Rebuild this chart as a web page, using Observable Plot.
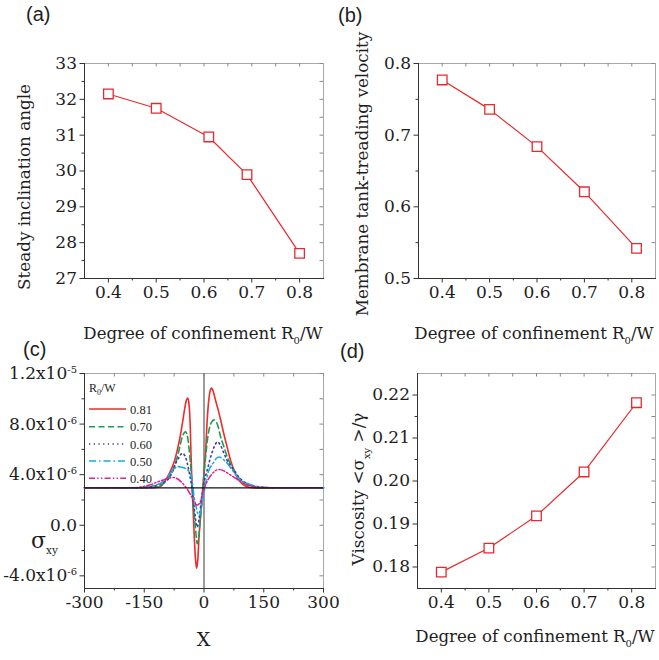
<!DOCTYPE html>
<html><head><meta charset="utf-8">
<script src="https://cdn.jsdelivr.net/npm/d3@7"></script>
<script src="https://cdn.jsdelivr.net/npm/@observablehq/plot@0.6"></script>
<style>
html,body{margin:0;padding:0;background:#fff;}
#fig{position:relative;width:659px;height:660px;overflow:hidden;background:#fff;}
.panel{position:absolute;}
#overlay{position:absolute;left:0;top:0;pointer-events:none;}
</style></head><body><div id="fig"></div>
<script>
// ---------- data ----------
const confA = [0.4, 0.5, 0.61, 0.69, 0.8];
const angleA = [32.15, 31.75, 30.95, 29.9, 27.7];
const confB = [0.4, 0.5, 0.6, 0.7, 0.81];
const velocityB = [0.777, 0.736, 0.684, 0.621, 0.542];
const confD = [0.4, 0.5, 0.6, 0.7, 0.81];
const viscosityD = [0.1788, 0.1844, 0.1919, 0.2021, 0.2182];

const confTicks = [0.4, 0.5, 0.6, 0.7, 0.8];
const confMinor = [0.45, 0.55, 0.65, 0.75];
const angleTicks = [27, 28, 29, 30, 31, 32, 33];
const angleMinor = [27.5, 28.5, 29.5, 30.5, 31.5, 32.5];
const velTicks = [0.5, 0.6, 0.7, 0.8];
const velMinor = [0.55, 0.65, 0.75];
const viscTicks = [0.18, 0.19, 0.20, 0.21, 0.22];
const viscMinor = [0.185, 0.195, 0.205, 0.215];

// panel (c): shear stress profiles, y in units of 1e-6
const stressBaseline = [2.96];
const xTicksC = [-300, -150, 0, 150, 300];
const xMinorC = [-225, -75, 75, 225];
const yTicksC = [-4, 0, 4, 8, 12];
const yMinorC = [-2, 2, 6, 10];
const yLabelsC = ["-4.0x10^-6", "0.0", "4.0x10^-6", "8.0x10^-6", "1.2x10^-5"];
const legendLabels = ["0.81", "0.70", "0.60", "0.50", "0.40"];

const sxy081 = [[-300,2.96],[-200,2.96],[-140,2.96],[-120,2.98],[-108,3.1],[-100,3.4],[-92,3.8],[-84,4.3],[-75,5.0],[-67,5.95],[-60,7.0],[-54,8.1],[-48,9.3],[-44,9.9],[-40.5,10.05],[-37.5,9.5],[-35,8.2],[-32.5,5.5],[-30,3.2],[-27,1.0],[-24,-1.2],[-21,-2.8],[-18.5,-3.4],[-16,-2.9],[-13,-1.2],[-10,0.2],[-6,1.6],[-3,2.9],[0,4.2],[4,5.8],[8,8.3],[12,9.9],[16,10.7],[19,10.85],[23,10.6],[28,10.0],[35,9.2],[42,8.3],[50,7.2],[58,6.2],[67,5.1],[76,4.3],[84,3.75],[92,3.4],[100,3.17],[110,3.02],[125,2.96],[300,2.96]];
const sxy070 = [[-300,2.96],[-160,2.96],[-130,3.0],[-109,3.17],[-95,3.5],[-84,3.97],[-75,4.6],[-67,5.4],[-60,6.3],[-54.5,7.0],[-50,7.3],[-46,7.4],[-42,7.1],[-38,6.2],[-34,4.9],[-30,3.2],[-27,1.7],[-22,0.0],[-17,-1.45],[-13,-0.8],[-9,0.6],[-5,2.2],[0,4.0],[4,5.4],[8,6.6],[12.4,7.5],[18,8.1],[25,8.33],[32,8.1],[41.7,7.0],[50,6.2],[58.5,5.4],[67,4.8],[75,4.37],[84,3.9],[92,3.57],[100,3.3],[109,3.17],[125,3.0],[150,2.96],[300,2.96]];
const sxy060 = [[-300,2.96],[-170,2.96],[-140,3.02],[-120,3.15],[-105,3.35],[-92,3.57],[-80,4.2],[-71,4.9],[-62,5.4],[-54.5,5.7],[-48,5.5],[-42,4.9],[-36,4.0],[-30,2.9],[-24,1.2],[-17,-0.15],[-12,0.6],[-7,1.9],[-2,3.0],[3,3.8],[8.3,4.37],[14,5.1],[20.8,5.8],[27,6.3],[33.4,6.6],[40,6.4],[50,5.7],[60,5.0],[75,4.37],[88,3.8],[100,3.44],[115,3.2],[133,3.07],[160,2.98],[300,2.96]];
const sxy050 = [[-300,2.96],[-180,2.96],[-150,3.0],[-125,3.15],[-110,3.3],[-95,3.7],[-82,4.2],[-74,4.5],[-67,4.63],[-58,4.6],[-48,4.5],[-40,4.35],[-33.7,4.1],[-29,3.3],[-25,2.25],[-20,1.5],[-15,0.9],[-11,0.8],[-7,1.3],[-3,2.1],[1.5,2.8],[6,3.6],[12.4,4.37],[18,4.7],[25,5.0],[31,5.3],[37.5,5.4],[45,5.3],[52,5.1],[58.5,4.9],[70,4.4],[83.6,3.83],[95,3.5],[108.8,3.3],[125,3.12],[150,3.0],[180,2.96],[300,2.96]];
const sxy040 = [[-300,2.96],[-190,2.96],[-160,3.02],[-135,3.2],[-115,3.45],[-100,3.6],[-88,3.72],[-78,3.78],[-68,3.7],[-58,3.45],[-48,3.1],[-40,2.75],[-33.7,2.4],[-27,2.0],[-22,1.7],[-17,1.6],[-12,1.7],[-7,2.1],[-2,2.7],[4,3.2],[12,3.7],[20,4.05],[28,4.3],[35,4.4],[41.7,4.4],[50,4.3],[58,4.15],[66.8,3.97],[80,3.7],[92,3.44],[108,3.2],[125,3.07],[150,2.98],[180,2.96],[300,2.96]];

// ---------- styles ----------
const SERIF = "'DejaVu Serif', serif";
const RED = "#e52a2f";
const seriesC = [
  {data: sxy081, stroke: "#ee2a2a", dash: null, w: 1.6},
  {data: sxy070, stroke: "#1c9e56", dash: "6,3.5", w: 1.6},
  {data: sxy060, stroke: "#3b3ba6", dash: "1.3,3.4", w: 1.6},
  {data: sxy050, stroke: "#1ea6e4", dash: "7,3,1.5,3", w: 1.6},
  {data: sxy040, stroke: "#e6208a", dash: "6,2.2,1.5,2.2,1.5,2.2", w: 1.5}
];
const baseStyle = "font-family:'DejaVu Serif',serif;font-size:17px;color:#1e1e1e;background:transparent;overflow:visible;";

function frameMarks(pw, ph, xt, xm, yt, ym, xf, yf) {
  const xall = [...xt, ...xm], yall = [...yt, ...ym];
  return [
    Plot.frame({stroke: "#a8a8a8"}),
    Plot.tickX(xall, {insetBottom: ph - 3.5, stroke: "#888"}),
    Plot.tickY(yall, {insetLeft: pw - 3.5, stroke: "#888"}),
    Plot.tickX(xm, {insetTop: ph, insetBottom: -2.5, stroke: "#333"}),
    Plot.tickY(ym, {insetRight: pw, insetLeft: -2.5, stroke: "#333"}),
    Plot.axisX({ticks: xt, tickSize: 4.5, tickPadding: 3, tickFormat: xf, stroke: "#333", label: null}),
    Plot.axisY({ticks: yt, tickSize: 4.5, tickPadding: 3, tickFormat: yf, stroke: "#333", label: null}),
    Plot.frame({anchor: "left", stroke: "#333"}),
    Plot.frame({anchor: "bottom", stroke: "#333"})
  ];
}

function fixFonts(svg) {
  svg.querySelectorAll("text").forEach(t => {
    t.style.fontFamily = SERIF;
    t.style.fontSize = "17px";
  });
  return svg;
}

function scatterPanel(xs, ys, xDomain, yDomain, yt, ym, yf, w, h, m) {
  const pw = w - m.l - m.r, ph = h - m.t - m.b;
  const data = xs.map((x, i) => ({x, y: ys[i]}));
  return fixFonts(Plot.plot({
    width: w, height: h, marginLeft: m.l, marginRight: m.r, marginTop: m.t, marginBottom: m.b,
    style: baseStyle,
    x: {domain: xDomain, label: null}, y: {domain: yDomain, label: null},
    marks: [
      ...frameMarks(pw, ph, confTicks, confMinor, yt, ym, d => d.toFixed(1), yf),
      Plot.line(data, {x: "x", y: "y", stroke: RED, strokeWidth: 1.2}),
      Plot.dot(data, {x: "x", y: "y", symbol: "square", r: 5.4, stroke: RED, fill: "white", strokeWidth: 1.3})
    ]
  }));
}

const fig = document.getElementById("fig");
function place(el, left, top) {
  const d = document.createElement("div");
  d.className = "panel"; d.style.left = left + "px"; d.style.top = top + "px";
  d.appendChild(el); fig.appendChild(d);
}

// (a)
place(scatterPanel(confA, angleA, [0.35, 0.85], [27, 33], angleTicks, angleMinor, d => String(d),
  330, 330, {l: 84, r: 7, t: 63, b: 52}), 0, 0);
// (b)
place(scatterPanel(confB, velocityB, [0.35, 0.85], [0.5, 0.8], velTicks, velMinor, d => d.toFixed(1),
  329, 330, {l: 88, r: 4, t: 63, b: 52}), 330, 0);
// (d)
place(scatterPanel(confD, viscosityD, [0.35, 0.85], [0.175, 0.225], viscTicks, viscMinor, d => d.toFixed(2),
  329, 330, {l: 87, r: 4, t: 43, b: 72}), 330, 330);

// (c)
{
  const w = 330, h = 330, m = {l: 84, r: 7, t: 43, b: 72};
  const pw = w - m.l - m.r, ph = h - m.t - m.b;
  const svg = fixFonts(Plot.plot({
    width: w, height: h, marginLeft: m.l, marginRight: m.r, marginTop: m.t, marginBottom: m.b,
    style: baseStyle,
    x: {domain: [-300, 300], label: null}, y: {domain: [-5, 12], label: null},
    marks: [
      ...frameMarks(pw, ph, xTicksC, xMinorC, yTicksC, yMinorC, d => String(d), d => yLabelsC[yTicksC.indexOf(d)]),
      Plot.ruleX([0], {stroke: "#858585", strokeWidth: 1.6}),
      ...seriesC.map(s => Plot.line(s.data, {x: d => d[0], y: d => d[1], stroke: s.stroke, strokeWidth: s.w,
        strokeDasharray: s.dash, curve: "catmull-rom"})),
      Plot.ruleY(stressBaseline, {stroke: "#111", strokeWidth: 1.3})
    ]
  }));
  const ns = "http://www.w3.org/2000/svg";
  svg.querySelectorAll('g[aria-label="y-axis tick label"] text').forEach(t => {
    const s = t.textContent;
    if (s.includes("^")) {
      const [a, b] = s.split("^");
      t.textContent = "";
      const t1 = document.createElementNS(ns, "tspan"); t1.textContent = a;
      const t2 = document.createElementNS(ns, "tspan"); t2.textContent = b;
      t2.setAttribute("dy", "-0.6em"); t2.setAttribute("font-size", "10px");
      t.append(t1, t2);
    }
  });
  place(svg, 0, 330);
}

// ---------- overlay: titles, panel labels, legend ----------
const ov = d3.select(fig).append("svg").attr("id", "overlay").attr("width", 659).attr("height", 660)
  .attr("font-family", SERIF).attr("fill", "#1e1e1e");

const panelLabels = [["(a)", 26, 21], ["(b)", 338, 22], ["(c)", 23, 356], ["(d)", 340, 358]];
panelLabels.forEach(([t, x, y]) => ov.append("text").attr("x", x).attr("y", y)
  .attr("font-family", "'Liberation Sans', Arial, sans-serif").attr("font-size", 20).text(t));

function xTitle(cx, y) {
  const t = ov.append("text").attr("x", cx).attr("y", y).attr("text-anchor", "middle").attr("font-size", 16.6);
  t.append("tspan").text("Degree of confinement R");
  t.append("tspan").attr("font-size", 10).attr("dy", 5).text("0");
  t.append("tspan").attr("dy", -5).text("/W");
}
xTitle(203, 339);
xTitle(534, 339);
xTitle(535, 642);

ov.append("text").attr("x", 203.5).attr("y", 646).attr("text-anchor", "middle").attr("font-size", 19).text("X");

ov.append("text").attr("transform", "translate(30,187) rotate(-90)").attr("text-anchor", "middle")
  .attr("font-size", 16.8).text("Steady inclination angle");
ov.append("text").attr("transform", "translate(368,174) rotate(-90)").attr("text-anchor", "middle")
  .attr("font-size", 16.8).text("Membrane tank-treading velocity");
{
  const t = ov.append("text").attr("transform", "translate(364,489) rotate(-90)").attr("text-anchor", "middle")
    .attr("font-size", 16.8);
  t.append("tspan").text("Viscosity <σ");
  t.append("tspan").attr("font-size", 10).attr("dy", 6).text("xy");
  t.append("tspan").attr("dy", -6).text(" >/γ");
}
{
  const t = ov.append("text").attr("x", 31).attr("y", 548).attr("font-size", 22);
  t.append("tspan").text("σ");
  t.append("tspan").attr("font-size", 10.5).attr("dy", 6).text("xy");
}

// legend for (c)
{
  const t = ov.append("text").attr("x", 89).attr("y", 392).attr("font-size", 12)
    .attr("font-family", "'Liberation Serif', serif");
  t.append("tspan").text("R");
  t.append("tspan").attr("font-size", 8).attr("dy", 3).text("0");
  t.append("tspan").attr("dy", -3).text("/W");
  const rowY = [409, 426.7, 444, 461, 478.3];
  seriesC.forEach((s, i) => {
    ov.append("line").attr("x1", 89).attr("x2", 126).attr("y1", rowY[i]).attr("y2", rowY[i])
      .attr("stroke", s.stroke).attr("stroke-width", s.w).attr("stroke-dasharray", s.dash);
    ov.append("text").attr("x", 130).attr("y", rowY[i] + 4.5).attr("font-size", 12.5)
      .attr("font-family", "'Liberation Serif', serif").text(legendLabels[i]);
  });
}
</script></body></html>
